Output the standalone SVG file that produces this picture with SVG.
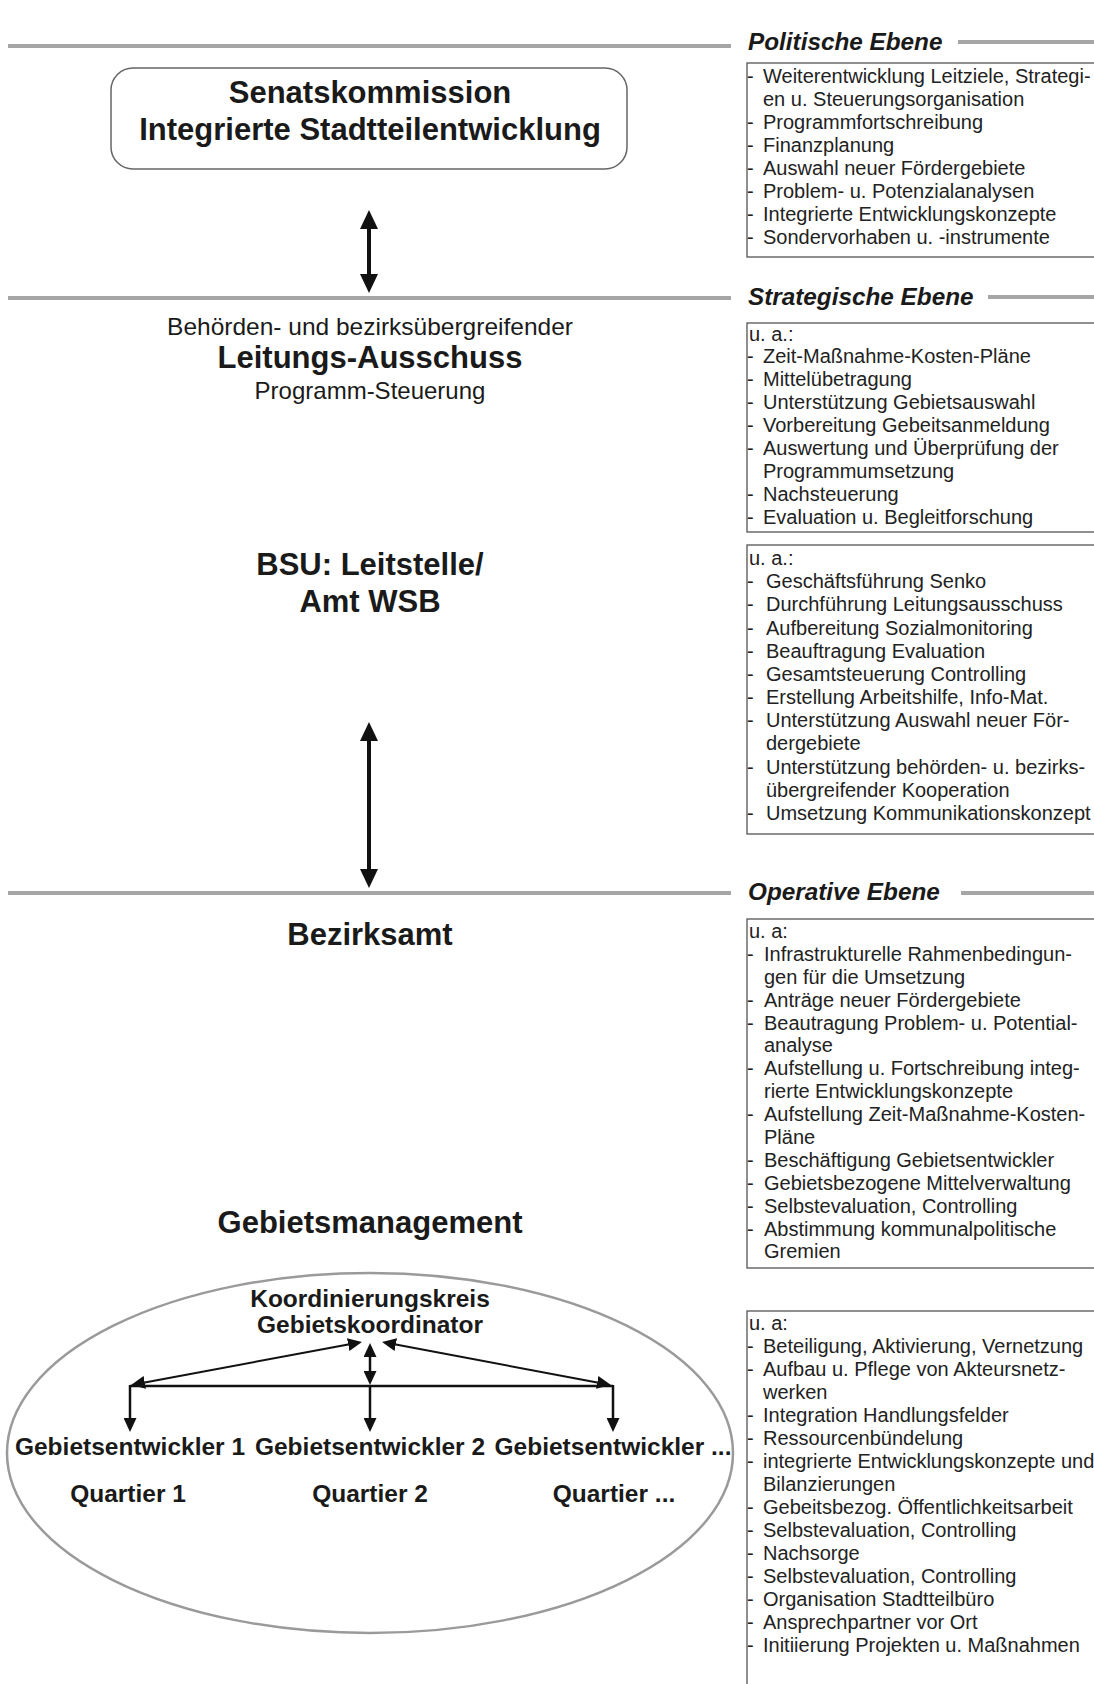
<svg xmlns="http://www.w3.org/2000/svg" width="1094" height="1684" viewBox="0 0 1094 1684">
<style>
  .lvl { stroke:#a6a6a6; stroke-width:4; fill:none; }
  .head { font-family:"Liberation Sans", Arial, sans-serif; font-weight:bold; font-style:italic; font-size:24.3px; fill:#1a1a1a; }
  .big { font-family:"Liberation Sans", Arial, sans-serif; font-weight:bold; font-size:31px; fill:#1a1a1a; text-anchor:middle; }
  .reg { font-family:"Liberation Sans", Arial, sans-serif; font-size:24px; fill:#1a1a1a; text-anchor:middle; }
  .mid { font-family:"Liberation Sans", Arial, sans-serif; font-weight:bold; font-size:24.5px; fill:#1a1a1a; text-anchor:middle; }
  .item { font-family:"Liberation Sans", Arial, sans-serif; font-size:20px; fill:#222; }
  .box { fill:#fff; stroke:#555; stroke-width:1.3; }
  .conn { stroke:#111; fill:none; }
</style>
<defs>
  <marker id="hb" viewBox="0 0 19 18" refX="0" refY="9" markerWidth="19" markerHeight="18" markerUnits="userSpaceOnUse" orient="auto-start-reverse">
    <path d="M0,0 L19,9 L0,18 z" fill="#111"/>
  </marker>
  <marker id="hs" viewBox="0 0 14 13" refX="0" refY="6.5" markerWidth="14" markerHeight="13" markerUnits="userSpaceOnUse" orient="auto-start-reverse">
    <path d="M0,0 L14,6.5 L0,13 z" fill="#111"/>
  </marker>
</defs>
<rect width="1094" height="1684" fill="#fff"/>

<g id="levels">
  <line class="lvl" x1="8" y1="46" x2="731" y2="46"/>
  <line class="lvl" x1="958" y1="42" x2="1094" y2="42"/>
  <text class="head" x="748" y="50">Politische Ebene</text>
  <line class="lvl" x1="8" y1="298" x2="731" y2="298"/>
  <line class="lvl" x1="988" y1="297" x2="1094" y2="297"/>
  <text class="head" x="748" y="305">Strategische Ebene</text>
  <line class="lvl" x1="8" y1="893" x2="731" y2="893"/>
  <line class="lvl" x1="961" y1="893" x2="1094" y2="893"/>
  <text class="head" x="748" y="900">Operative Ebene</text>
</g>

<g id="senatskommission">
  <rect x="111" y="68" width="516" height="101" rx="22" fill="#fff" stroke="#666" stroke-width="1.5"/>
  <text class="big" x="370" y="103">Senatskommission</text>
  <text class="big" x="370" y="140">Integrierte Stadtteilentwicklung</text>
</g>

<g id="leitungsausschuss">
  <text class="reg" x="370" y="335" style="font-size:24.5px">Behörden- und bezirksübergreifender</text>
  <text class="big" x="370" y="368">Leitungs-Ausschuss</text>
  <text class="reg" x="370" y="399">Programm-Steuerung</text>
</g>

<g id="bsu">
  <text class="big" x="370" y="575">BSU: Leitstelle/</text>
  <text class="big" x="370" y="612">Amt WSB</text>
</g>

<g id="bezirksamt">
  <text class="big" x="370" y="945">Bezirksamt</text>
</g>

<g id="gebietsmanagement">
  <text class="big" x="370" y="1233">Gebietsmanagement</text>
  <ellipse cx="370" cy="1453" rx="363" ry="180" fill="none" stroke="#9a9a9a" stroke-width="2.5"/>
</g>

<g id="koordinierungskreis">
  <text class="mid" x="370" y="1307">Koordinierungskreis</text>
  <text class="mid" x="370" y="1333">Gebietskoordinator</text>
</g>

<g id="gebietsentwickler1">
  <text class="mid" x="130" y="1455">Gebietsentwickler 1</text>
  <text class="mid" x="128" y="1502">Quartier 1</text>
</g>
<g id="gebietsentwickler2">
  <text class="mid" x="370" y="1455">Gebietsentwickler 2</text>
  <text class="mid" x="370" y="1502">Quartier 2</text>
</g>
<g id="gebietsentwickler3">
  <text class="mid" x="613" y="1455">Gebietsentwickler ...</text>
  <text class="mid" x="614" y="1502">Quartier ...</text>
</g>

<g id="box-politisch">
  <rect class="box" x="747" y="63" width="360" height="194"/>
  <text class="item">
    <tspan x="747" y="83">-</tspan><tspan x="763" y="83">Weiterentwicklung Leitziele, Strategi-</tspan>
    <tspan x="763" y="106">en u. Steuerungsorganisation</tspan>
    <tspan x="747" y="129">-</tspan><tspan x="763" y="129">Programmfortschreibung</tspan>
    <tspan x="747" y="152">-</tspan><tspan x="763" y="152">Finanzplanung</tspan>
    <tspan x="747" y="175">-</tspan><tspan x="763" y="175">Auswahl neuer Fördergebiete</tspan>
    <tspan x="747" y="198">-</tspan><tspan x="763" y="198">Problem- u. Potenzialanalysen</tspan>
    <tspan x="747" y="221">-</tspan><tspan x="763" y="221">Integrierte Entwicklungskonzepte</tspan>
    <tspan x="747" y="244">-</tspan><tspan x="763" y="244">Sondervorhaben u. -instrumente</tspan>
  </text>
</g>

<g id="box-strategisch">
  <rect class="box" x="747" y="323" width="360" height="209"/>
  <text class="item">
    <tspan x="749" y="341">u. a.:</tspan>
    <tspan x="747" y="363">-</tspan><tspan x="763" y="363">Zeit-Maßnahme-Kosten-Pläne</tspan>
    <tspan x="747" y="386">-</tspan><tspan x="763" y="386">Mittelübetragung</tspan>
    <tspan x="747" y="409">-</tspan><tspan x="763" y="409">Unterstützung Gebietsauswahl</tspan>
    <tspan x="747" y="432">-</tspan><tspan x="763" y="432">Vorbereitung Gebeitsanmeldung</tspan>
    <tspan x="747" y="455">-</tspan><tspan x="763" y="455">Auswertung und Überprüfung der</tspan>
    <tspan x="763" y="478">Programmumsetzung</tspan>
    <tspan x="747" y="501">-</tspan><tspan x="763" y="501">Nachsteuerung</tspan>
    <tspan x="747" y="524">-</tspan><tspan x="763" y="524">Evaluation u. Begleitforschung</tspan>
  </text>
</g>

<g id="box-bsu">
  <rect class="box" x="747" y="545" width="360" height="289"/>
  <text class="item">
    <tspan x="749" y="565">u. a.:</tspan>
    <tspan x="747" y="588">-</tspan><tspan x="766" y="588">Geschäftsführung Senko</tspan>
    <tspan x="747" y="611">-</tspan><tspan x="766" y="611">Durchführung Leitungsausschuss</tspan>
    <tspan x="747" y="635">-</tspan><tspan x="766" y="635">Aufbereitung Sozialmonitoring</tspan>
    <tspan x="747" y="658">-</tspan><tspan x="766" y="658">Beauftragung Evaluation</tspan>
    <tspan x="747" y="681">-</tspan><tspan x="766" y="681">Gesamtsteuerung Controlling</tspan>
    <tspan x="747" y="704">-</tspan><tspan x="766" y="704">Erstellung Arbeitshilfe, Info-Mat.</tspan>
    <tspan x="747" y="727">-</tspan><tspan x="766" y="727">Unterstützung Auswahl neuer För-</tspan>
    <tspan x="766" y="750">dergebiete</tspan>
    <tspan x="747" y="774">-</tspan><tspan x="766" y="774">Unterstützung behörden- u. bezirks-</tspan>
    <tspan x="766" y="797">übergreifender Kooperation</tspan>
    <tspan x="747" y="820">-</tspan><tspan x="766" y="820">Umsetzung Kommunikationskonzept</tspan>
  </text>
</g>

<g id="box-bezirksamt">
  <rect class="box" x="747" y="919" width="360" height="349"/>
  <text class="item">
    <tspan x="749" y="938">u. a:</tspan>
    <tspan x="747" y="961">-</tspan><tspan x="764" y="961">Infrastrukturelle Rahmenbedingun-</tspan>
    <tspan x="764" y="984">gen für die Umsetzung</tspan>
    <tspan x="747" y="1007">-</tspan><tspan x="764" y="1007">Anträge neuer Fördergebiete</tspan>
    <tspan x="747" y="1030">-</tspan><tspan x="764" y="1030">Beautragung Problem- u. Potential-</tspan>
    <tspan x="764" y="1052">analyse</tspan>
    <tspan x="747" y="1075">-</tspan><tspan x="764" y="1075">Aufstellung u. Fortschreibung integ-</tspan>
    <tspan x="764" y="1098">rierte Entwicklungskonzepte</tspan>
    <tspan x="747" y="1121">-</tspan><tspan x="764" y="1121">Aufstellung Zeit-Maßnahme-Kosten-</tspan>
    <tspan x="764" y="1144">Pläne</tspan>
    <tspan x="747" y="1167">-</tspan><tspan x="764" y="1167">Beschäftigung Gebietsentwickler</tspan>
    <tspan x="747" y="1190">-</tspan><tspan x="764" y="1190">Gebietsbezogene Mittelverwaltung</tspan>
    <tspan x="747" y="1213">-</tspan><tspan x="764" y="1213">Selbstevaluation, Controlling</tspan>
    <tspan x="747" y="1236">-</tspan><tspan x="764" y="1236">Abstimmung kommunalpolitische</tspan>
    <tspan x="764" y="1258">Gremien</tspan>
  </text>
</g>

<g id="box-gebietsmanagement">
  <rect class="box" x="747" y="1311" width="360" height="400"/>
  <text class="item">
    <tspan x="749" y="1330">u. a:</tspan>
    <tspan x="747" y="1353">-</tspan><tspan x="763" y="1353">Beteiligung, Aktivierung, Vernetzung</tspan>
    <tspan x="747" y="1376">-</tspan><tspan x="763" y="1376">Aufbau u. Pflege von Akteursnetz-</tspan>
    <tspan x="763" y="1399">werken</tspan>
    <tspan x="747" y="1422">-</tspan><tspan x="763" y="1422">Integration Handlungsfelder</tspan>
    <tspan x="747" y="1445">-</tspan><tspan x="763" y="1445">Ressourcenbündelung</tspan>
    <tspan x="747" y="1468">-</tspan><tspan x="763" y="1468">integrierte Entwicklungskonzepte und</tspan>
    <tspan x="763" y="1491">Bilanzierungen</tspan>
    <tspan x="747" y="1514">-</tspan><tspan x="763" y="1514">Gebeitsbezog. Öffentlichkeitsarbeit</tspan>
    <tspan x="747" y="1537">-</tspan><tspan x="763" y="1537">Selbstevaluation, Controlling</tspan>
    <tspan x="747" y="1560">-</tspan><tspan x="763" y="1560">Nachsorge</tspan>
    <tspan x="747" y="1583">-</tspan><tspan x="763" y="1583">Selbstevaluation, Controlling</tspan>
    <tspan x="747" y="1606">-</tspan><tspan x="763" y="1606">Organisation Stadtteilbüro</tspan>
    <tspan x="747" y="1629">-</tspan><tspan x="763" y="1629">Ansprechpartner vor Ort</tspan>
    <tspan x="747" y="1652">-</tspan><tspan x="763" y="1652">Initiierung Projekten u. Maßnahmen</tspan>
  </text>
</g>

<g id="connectors">
  <line class="conn" x1="369" y1="229" x2="369" y2="274" stroke-width="4" marker-start="url(#hb)" marker-end="url(#hb)"/>
  <line class="conn" x1="369" y1="741" x2="369" y2="869" stroke-width="4" marker-start="url(#hb)" marker-end="url(#hb)"/>
  <line class="conn" x1="130" y1="1386" x2="613" y2="1386" stroke-width="2.5"/>
  <line class="conn" x1="348.2" y1="1344.6" x2="144.8" y2="1382.4" stroke-width="2" marker-start="url(#hs)" marker-end="url(#hs)"/>
  <line class="conn" x1="395.8" y1="1344.6" x2="597.2" y2="1382.4" stroke-width="2" marker-start="url(#hs)" marker-end="url(#hs)"/>
  <line class="conn" x1="370" y1="1357" x2="370" y2="1371" stroke-width="2.5" marker-start="url(#hs)" marker-end="url(#hs)"/>
  <line class="conn" x1="130" y1="1385" x2="130" y2="1418" stroke-width="2.5" marker-end="url(#hs)"/>
  <line class="conn" x1="370" y1="1385" x2="370" y2="1418" stroke-width="2.5" marker-end="url(#hs)"/>
  <line class="conn" x1="613" y1="1385" x2="613" y2="1418" stroke-width="2.5" marker-end="url(#hs)"/>
</g>
</svg>
